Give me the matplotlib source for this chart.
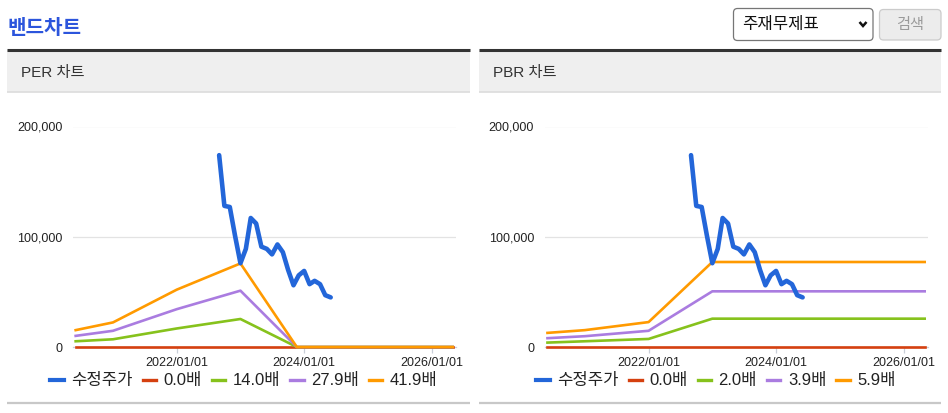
import numpy as np
import pandas as pd
import matplotlib
matplotlib.use('Agg')
import matplotlib.pyplot as plt
import matplotlib.dates as mdates
from matplotlib.lines import Line2D
from matplotlib.patches import Rectangle, FancyBboxPatch

plt.rcParams['font.family'] = ['Liberation Sans', 'Noto Sans CJK KR', 'DejaVu Sans']

# --------------------------- DATA -------------------------------
# Monthly adjusted share price (수정주가), same in both charts
price_dates = pd.date_range('2022-09-01', '2024-06-01', freq='MS')
price = [174000, 128000, 127000, 101000, 76000, 89000, 117000, 112000, 91000, 89000, 84000,
         93000, 86000, 70000, 56000, 65000, 69000, 57000, 60000, 57000, 47000, 45000]

# PER band (values per multiple)
per_dates = pd.to_datetime(['2020-06-01', '2021-01-01', '2022-01-01', '2023-01-01', '2023-11-20', '2026-05-01'])
per_labels = ['0.0배', '14.0배', '27.9배', '41.9배']
per_bands = [
    [0, 0, 0, 0, 0, 0],
    [5200, 7000, 16800, 25400, 0, 0],
    [10100, 14700, 34300, 51100, 0, 0],
    [15300, 22300, 52000, 75800, 0, 0],
]

# PBR band
pbr_dates = pd.to_datetime(['2020-06-01', '2021-01-01', '2022-01-01', '2023-01-01', '2026-05-01'])
pbr_labels = ['0.0배', '2.0배', '3.9배', '5.9배']
pbr_bands = [
    [0, 0, 0, 0, 0],
    [4000, 5200, 7300, 25700, 25700],
    [8000, 9800, 14700, 50500, 50500],
    [12800, 15300, 22600, 77100, 77100],
]

x_ticks = ['2022-01-01', '2024-01-01', '2026-01-01']
y_ticks = [0, 100000, 200000]

# --------------------------- STYLE -------------------------------
W, H = 948, 413
price_color = '#2366d9'
band_colors = ['#d5400f', '#86c21c', '#aa7ce0', '#ff9a00']
text_dark = '#222222'


def px_box(x0, y0, x1, y1):
    # pixel box (top-left origin) -> figure fraction [left, bottom, width, height]
    return [x0 / W, 1 - y1 / H, (x1 - x0) / W, (y1 - y0) / H]


def panel_frame(bg, x0, x1, title):
    # grey header band with a dark top rule, and the grey rule at the bottom
    bg.add_patch(Rectangle((x0, 50), x1 - x0, 41.5, facecolor='#efefef', edgecolor='none'))
    bg.plot([x0, x1], [50, 50], color='#333333', lw=2.2, solid_capstyle='butt')
    bg.plot([x0, x1], [91.8, 91.8], color='#dcdcdc', lw=1.2, solid_capstyle='butt')
    bg.plot([x0, x1], [402.5, 402.5], color='#c8c8c8', lw=1.6, solid_capstyle='butt')
    bg.text(x0 + 14, 72.5, title, fontsize=11, color='#333333', va='center', ha='left')


def band_chart(fig, box, dates, bands, labels, legend_x):
    ax = fig.add_axes(px_box(*box))
    for vals, c in zip(bands, band_colors):
        ax.plot(dates, vals, color=c, lw=1.9, clip_on=False, zorder=3)
    ax.plot(price_dates, price, color=price_color, lw=3.3, zorder=4,
            solid_joinstyle='round', solid_capstyle='round')

    ax.set_xlim(pd.Timestamp('2020-05-15'), pd.Timestamp('2026-05-20'))
    ax.set_ylim(0, 200000)
    ax.set_xticks(pd.to_datetime(x_ticks))
    ax.xaxis.set_major_formatter(mdates.DateFormatter('%Y/%m/%d'))
    ax.set_yticks(y_ticks)
    ax.set_yticklabels(['{:,}'.format(v) for v in y_ticks])
    ax.yaxis.grid(True, color='#e3e3e3', lw=0.9)
    ax.set_axisbelow(True)
    for s in ['top', 'right', 'left']:
        ax.spines[s].set_visible(False)
    ax.spines['bottom'].set_color('#c9cfd8')
    ax.spines['bottom'].set_linewidth(0.9)
    ax.tick_params(axis='x', length=4, width=0.9, color='#c9cfd8', pad=3.5,
                   labelsize=9, labelcolor=text_dark)
    ax.tick_params(axis='y', length=0, pad=7.5, labelsize=9, labelcolor=text_dark)

    handles = [Line2D([], [], color=price_color, lw=3)]
    handles += [Line2D([], [], color=c, lw=2.4) for c in band_colors]
    fig.legend(handles, ['수정주가'] + labels, loc='center', ncol=5, frameon=False,
               bbox_to_anchor=(legend_x / W, 1 - 381 / H), fontsize=12,
               handlelength=0.8, handletextpad=0.45, columnspacing=0.6,
               labelcolor=text_dark, borderaxespad=0, borderpad=0)
    return ax


# --------------------------- FIGURE -------------------------------
fig = plt.figure(figsize=(W / 100, H / 100), dpi=100)
bg = fig.add_axes([0, 0, 1, 1])
bg.set_xlim(0, W)
bg.set_ylim(H, 0)
bg.axis('off')

bg.text(8, 28, '밴드차트', fontsize=14.5, fontweight='bold', color='#2c55dc', va='center', ha='left')

# select box and search button
bg.add_patch(FancyBboxPatch((733.5, 8.5), 139.5, 32, boxstyle='round,pad=0,rounding_size=4',
                            facecolor='white', edgecolor='#767676', lw=0.9))
bg.text(742, 24.5, '주재무제표', fontsize=12, color='#111111', va='center', ha='left')
bg.plot([859.5, 863, 866.5], [22, 26, 22], color='#111111', lw=1.8,
        solid_joinstyle='miter', solid_capstyle='butt')
bg.add_patch(FancyBboxPatch((879.5, 9.5), 61.5, 30.5, boxstyle='round,pad=0,rounding_size=4',
                            facecolor='#ececec', edgecolor='#cbcbcb', lw=0.9))
bg.text(910, 24.5, '검색', fontsize=11, color='#9a9a9a', va='center', ha='center')

panel_frame(bg, 7, 470, 'PER 차트')
panel_frame(bg, 479, 941, 'PBR 차트')

band_chart(fig, (72.7, 126.5, 456, 347), per_dates, per_bands, per_labels, 244)
band_chart(fig, (544.5, 126.5, 928, 347), pbr_dates, pbr_bands, pbr_labels, 716)

fig.savefig('out.png', dpi=100)
